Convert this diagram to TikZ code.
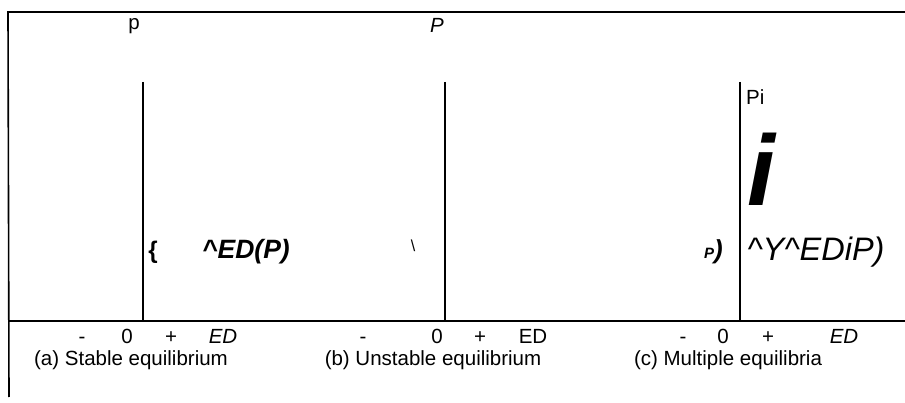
\documentclass[tikz,border=0pt]{standalone}
\usepackage{fontspec}
\setmainfont{Liberation Sans}
\begin{document}
\begin{tikzpicture}[x=1pt,y=-1pt,
  axisline/.style={line width=1.6pt},
  lab/.style={inner sep=0pt,font=\fontsize{20.5}{24}\selectfont},
  itlab/.style={inner sep=0pt,font=\fontsize{20.5}{24}\selectfont\itshape},
  ticklab/.style={lab,anchor=base},
  itticklab/.style={itlab,anchor=base}]
\useasboundingbox[fill=white] (0,0) rectangle (905,403);
% frame lines
\coordinate (tl) at (8,12);
\coordinate (tr) at (905,12);
\coordinate (bl) at (9,397);
\coordinate (hl) at (9,321);
\coordinate (hr) at (905,321);
\draw[axisline] (tr) -- (tl) -- (bl);
\draw[axisline] (hl) -- (hr);
% vertical axes
\coordinate (a1) at (143,82); \coordinate (a2) at (143,321);
\coordinate (b1) at (445,82); \coordinate (b2) at (445,321);
\coordinate (c1) at (740,82); \coordinate (c2) at (740,321);
\draw[axisline] (a1) -- (a2);
\draw[axisline] (b1) -- (b2);
\draw[axisline] (c1) -- (c2);
% top labels
\node[lab] (pa) at (134,26) {p};
\node[itlab] (pb) at (437,25) {P};
\node[lab,anchor=west] (pc) at (746,97) {Pi};
\node[inner sep=0pt,font=\fontsize{100}{100}\selectfont\bfseries\itshape] (bigi) at (761,169) {i};
% curve labels
\node[inner sep=0pt,font=\fontsize{24}{28}\selectfont\bfseries] (brace) at (153,252) {\{};
\node[inner sep=0pt,font=\fontsize{26.5}{30}\selectfont\bfseries\itshape] (eda) at (246,252) {\^{}ED(P)};
\node[inner sep=0pt,font=\fontsize{16}{18}\selectfont] (bs) at (413,246) {\textbackslash};
\node[inner sep=0pt,anchor=east] (pcl) at (723,252) {\fontsize{15}{18}\selectfont\bfseries\itshape P\fontsize{26}{30}\selectfont)};
\node[inner sep=0pt,font=\fontsize{32.5}{36}\selectfont\itshape] (edc) at (816,252) {\^{}Y\^{}EDiP)};
% axis tick labels
\node[ticklab] (ma) at (82,344) {-};
\node[ticklab] (za) at (127,344) {0};
\node[ticklab] (pla) at (171,344) {+};
\node[itticklab] (eda2) at (223,344) {ED};
\node[ticklab] (mb) at (363,344) {-};
\node[ticklab] (zb) at (437,344) {0};
\node[ticklab] (plb) at (480,344) {+};
\node[ticklab] (edb) at (533,344) {ED};
\node[ticklab] (mc) at (683,344) {-};
\node[ticklab] (zc) at (723,344) {0};
\node[ticklab] (plc) at (768,344) {+};
\node[itticklab] (edc2) at (844,344) {ED};
% captions
\node[ticklab] (capa) at (131,365) {(a) Stable equilibrium};
\node[ticklab] (capb) at (433,365) {(b) Unstable equilibrium};
\node[ticklab] (capc) at (728,365) {(c) Multiple equilibria};
\end{tikzpicture}
\end{document}
